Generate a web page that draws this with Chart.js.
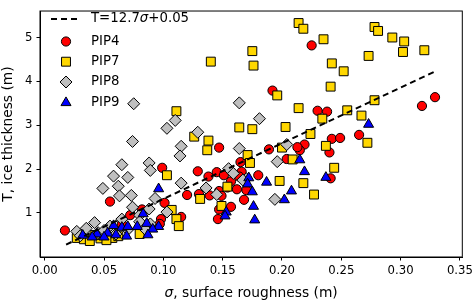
<!DOCTYPE html>
<html>
<head>
<meta charset="utf-8">
<script src="https://cdn.jsdelivr.net/npm/chart.js@4.4.1/dist/chart.umd.min.js"></script>
<style>
  html, body { margin: 0; padding: 0; background: #ffffff; }
  #c { display: block; }
</style>
</head>
<body>
<canvas id="c" width="476" height="302" style="width:476px;height:302px"></canvas>
<script>
// ---- data (σ in m, T in m) ----
const xTickValues = [0.00, 0.05, 0.10, 0.15, 0.20, 0.25, 0.30, 0.35];
const yTickValues = [1, 2, 3, 4, 5];

const fitLabel = "T=12.7σ+0.05";
const fitSigma = [0.018, 0.330];
const fitT = [0.28, 4.24];

const pip4 = [
  [0.225,4.82],[0.192,3.79],[0.230,3.33],[0.238,3.31],[0.318,3.44],[0.329,3.64],
  [0.265,2.78],[0.242,2.69],[0.249,2.71],[0.219,2.56],[0.215,2.43],[0.213,2.50],[0.240,2.38],[0.241,1.79],
  [0.204,2.23],[0.189,2.45],[0.147,2.49],[0.165,2.16],[0.166,1.94],[0.180,1.86],[0.170,1.52],[0.168,1.30],
  [0.147,1.50],[0.149,1.39],[0.099,2.03],[0.129,1.95],[0.138,1.83],[0.145,1.93],[0.151,1.86],[0.157,1.72],
  [0.164,1.83],[0.120,1.41],[0.130,1.43],[0.139,1.40],[0.154,1.58],[0.162,1.54],[0.101,1.23],[0.147,1.08],
  [0.157,1.14],[0.146,0.86],[0.115,0.91],[0.098,0.86],[0.082,1.08],[0.055,1.26],[0.017,0.60],[0.072,0.95],
  [0.097,0.75],[0.065,0.75]
];
const pip7 = [
  [0.214,5.33],[0.218,5.20],[0.140,4.45],[0.175,4.69],[0.176,4.36],[0.196,3.68],[0.214,3.39],[0.111,3.32],
  [0.164,2.95],[0.175,2.91],[0.203,2.96],[0.235,4.96],[0.278,5.24],[0.281,5.15],[0.293,5.00],[0.303,4.91],
  [0.302,4.67],[0.320,4.71],[0.273,4.58],[0.242,4.41],[0.252,4.23],[0.241,3.88],[0.278,3.57],[0.255,3.34],
  [0.234,3.15],[0.267,3.22],[0.224,2.80],[0.272,2.60],[0.237,2.53],[0.244,2.03],[0.218,1.68],[0.227,1.42],
  [0.198,1.73],[0.200,2.49],[0.171,2.32],[0.173,2.14],[0.209,2.22],[0.126,2.74],[0.138,2.65],[0.137,2.43],
  [0.103,1.86],[0.154,1.60],[0.131,1.32],[0.149,1.16],[0.107,1.07],[0.111,0.86],[0.113,0.70],
  [0.027,0.43],[0.033,0.40],[0.038,0.36],[0.047,0.42],[0.057,0.43],[0.052,0.38],[0.080,0.52],[0.042,0.50],[0.062,0.47]
];
const pip8 = [
  [0.075,3.49],[0.110,3.11],[0.103,2.93],[0.074,2.63],[0.115,2.52],[0.114,2.30],[0.065,2.10],[0.088,2.14],
  [0.089,1.97],[0.058,1.84],[0.070,1.81],[0.062,1.61],[0.049,1.56],[0.063,1.39],[0.073,1.40],[0.074,1.13],
  [0.065,0.86],[0.042,0.78],[0.027,0.58],[0.080,0.95],[0.089,0.75],[0.129,2.84],[0.115,1.68],[0.093,1.33],
  [0.088,1.09],[0.103,1.02],[0.136,1.57],[0.145,1.42],[0.155,2.01],[0.159,1.90],[0.170,1.78],[0.164,3.51],
  [0.181,3.15],[0.164,2.47],[0.204,2.56],[0.196,2.17],[0.194,1.31],[0.167,1.75],[0.080,0.80],
  [0.035,0.65],[0.045,0.55],[0.055,0.70],[0.050,0.60],[0.060,0.52],[0.030,0.48],[0.070,0.62],[0.085,0.62]
];
const pip9 = [
  [0.273,3.02],[0.215,2.21],[0.219,1.94],[0.237,1.81],[0.208,1.50],[0.187,1.70],[0.172,1.80],[0.171,1.66],
  [0.175,1.48],[0.202,1.30],[0.176,1.15],[0.177,0.84],[0.153,1.02],[0.152,0.93],[0.096,1.55],
  [0.083,0.98],[0.086,0.76],[0.096,0.69],[0.091,0.63],[0.087,0.50],
  [0.032,0.49],[0.044,0.52],[0.053,0.54],[0.058,0.71],[0.065,0.67],[0.070,0.69],[0.069,0.47],[0.078,0.69],
  [0.040,0.45],[0.050,0.45],[0.060,0.50]
];
const seriesNames = ["PIP4", "PIP7", "PIP8", "PIP9"];

// ---- build chart ----
const FONT = "'DejaVu Sans', 'Liberation Sans', sans-serif";
const toPts = arr => arr.map(p => ({ x: p[0], y: p[1] }));
const styles = [
  { pointStyle: 'circle',   radius: 4.6, backgroundColor: '#ff0000' },
  { pointStyle: 'rect',     radius: 6.3, backgroundColor: '#ffd700' },
  { pointStyle: 'rectRot',  radius: 6.0, backgroundColor: '#bfbfbf' },
  { pointStyle: 'triangle', radius: 5.8, backgroundColor: '#0000ff' }
];
const seriesData = [pip4, pip7, pip8, pip9];

const datasets = [{
  type: 'line',
  label: fitLabel,
  data: fitSigma.map((s, i) => ({ x: s, y: fitT[i] })),
  borderColor: '#000000',
  borderWidth: 2,
  borderDash: [6, 4],
  pointRadius: 0,
  fill: false,
  order: 0
}];
seriesNames.forEach((name, i) => {
  datasets.push({
    type: 'scatter',
    label: name,
    data: toPts(seriesData[i]),
    pointStyle: styles[i].pointStyle,
    pointRadius: styles[i].radius,
    pointHoverRadius: styles[i].radius,
    backgroundColor: styles[i].backgroundColor,
    borderColor: '#000000',
    borderWidth: 1,
    order: 4 - i
  });
});

function drawMarker(ctx, st, x, y) {
  ctx.save();
  ctx.fillStyle = st.backgroundColor;
  ctx.strokeStyle = '#000';
  ctx.lineWidth = 1;
  Chart.helpers.drawPoint(ctx, { pointStyle: st.pointStyle, radius: st.radius, rotation: 0, borderWidth: 1 }, x, y);
  ctx.restore();
}

const decorPlugin = {
  id: 'decor',
  afterDraw(chart) {
    const ctx = chart.ctx;
    const a = chart.chartArea;
    ctx.save();
    // frame
    ctx.strokeStyle = '#000';
    ctx.lineWidth = 1;
    ctx.strokeRect(a.left, a.top, a.right - a.left, a.bottom - a.top);

    // x axis title
    ctx.fillStyle = '#000';
    ctx.textBaseline = 'middle';
    const tsize = 13.8;
    const italic = 'italic ' + tsize + 'px ' + FONT;
    const normal = tsize + 'px ' + FONT;
    const xt1 = 'σ', xt2 = ', surface roughness (m)';
    ctx.font = italic; const w1 = ctx.measureText(xt1).width;
    ctx.font = normal; const w2 = ctx.measureText(xt2).width;
    const cx = (a.left + a.right) / 2;
    let sx = cx - (w1 + w2) / 2;
    ctx.textAlign = 'left';
    ctx.font = italic; ctx.fillText(xt1, sx, 293.5);
    ctx.font = normal; ctx.fillText(xt2, sx + w1, 293.5);

    // y axis title
    ctx.save();
    ctx.translate(8.5, (a.top + a.bottom) / 2);
    ctx.rotate(-Math.PI / 2);
    ctx.textAlign = 'center';
    ctx.font = normal;
    ctx.fillText('T, ice thickness (m)', 0, 0);
    ctx.restore();

    // legend
    const lsize = 13.3;
    const lnorm = lsize + 'px ' + FONT;
    const lital = 'italic ' + lsize + 'px ' + FONT;
    const textX = 91;
    const rows = [19, 41.5, 61.7, 82, 102.7];
    ctx.save();
    ctx.strokeStyle = '#000';
    ctx.lineWidth = 2;
    ctx.setLineDash([6, 4]);
    ctx.beginPath();
    ctx.moveTo(51, rows[0]);
    ctx.lineTo(79, rows[0]);
    ctx.stroke();
    ctx.restore();
    // equation label with italic sigma
    const parts = fitLabel.split('σ');
    let px = textX;
    ctx.textAlign = 'left';
    ctx.font = lnorm; ctx.fillText(parts[0], px, rows[0]); px += ctx.measureText(parts[0]).width;
    ctx.font = lital; ctx.fillText('σ', px, rows[0]); px += ctx.measureText('σ').width;
    ctx.font = lnorm; ctx.fillText(parts[1], px, rows[0]);
    seriesNames.forEach((name, i) => {
      drawMarker(ctx, styles[i], 66, rows[i + 1]);
      ctx.fillStyle = '#000';
      ctx.font = lnorm;
      ctx.textAlign = 'left';
      ctx.textBaseline = 'middle';
      ctx.fillText(name, textX, rows[i + 1]);
    });
    ctx.restore();
  }
};

const tickFont = { family: FONT, size: 11.7 };
new Chart(document.getElementById('c'), {
  type: 'scatter',
  data: { datasets },
  options: {
    responsive: false,
    animation: false,
    devicePixelRatio: 1,
    layout: { padding: { left: 0, right: 11, top: 1.5, bottom: 0 } },
    plugins: { legend: { display: false }, tooltip: { enabled: false } },
    scales: {
      x: {
        type: 'linear', min: -0.004, max: 0.352,
        grid: { display: true, drawOnChartArea: false, drawTicks: true, tickLength: 3.5, tickColor: '#000', tickWidth: 1 },
        border: { display: true, color: '#000', width: 1 },
        ticks: { font: tickFont, color: '#000', padding: 3, maxRotation: 0, autoSkip: false,
                 callback: v => Number(v).toFixed(2) },
        afterBuildTicks: s => { s.ticks = xTickValues.map(v => ({ value: v })); },
        afterFit: s => { s.height = 45; }
      },
      y: {
        type: 'linear', min: -0.004, max: 5.604,
        grid: { display: true, drawOnChartArea: false, drawTicks: true, tickLength: 3.5, tickColor: '#000', tickWidth: 1 },
        border: { display: true, color: '#000', width: 1 },
        ticks: { font: tickFont, color: '#000', padding: 4, autoSkip: false,
                 callback: v => String(v) },
        afterBuildTicks: s => { s.ticks = yTickValues.map(v => ({ value: v })); },
        afterFit: s => { s.width = 40; }
      }
    }
  },
  plugins: [decorPlugin]
});
</script>
</body>
</html>
